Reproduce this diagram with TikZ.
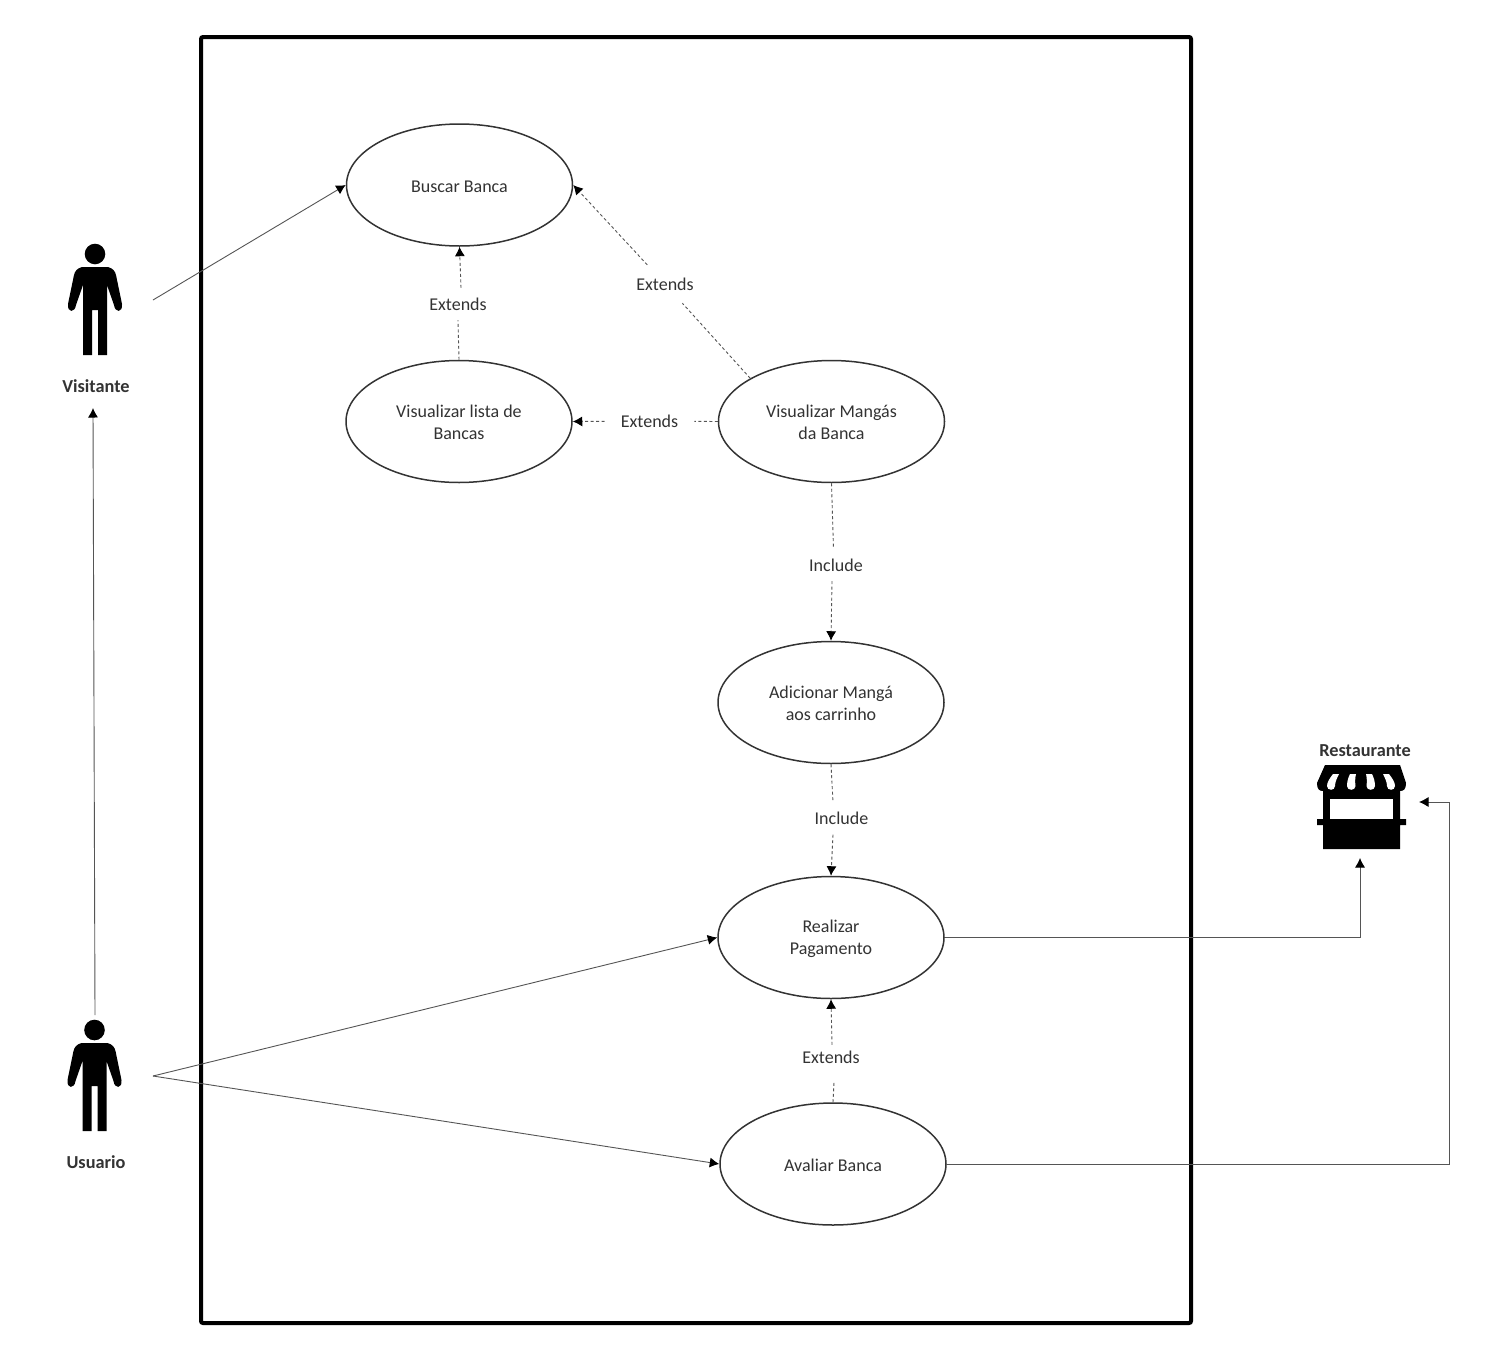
\documentclass[tikz,border=0pt]{standalone}
\usepackage{fontspec}
\setmainfont{Carlito}
\usetikzlibrary{arrows.meta,shapes.geometric}
\definecolor{inkc}{HTML}{333333}
\definecolor{linec}{HTML}{555555}
\newcommand{\firstline}[1]{\rule{0pt}{#1}}
\newcommand{\lastline}{\rule[-4pt]{0pt}{4pt}}
\tikzset{
  textframe/.style={execute at begin node={\rule{0pt}{#1}},execute at end node={\lastline}},
  usecase/.style={ellipse,draw=inkc,line width=1.5pt,minimum width=226pt,minimum height=122pt,inner sep=0pt,align=center,font=\fontsize{18}{22}\selectfont,text=inkc,textframe=18pt},
  deplabel/.style={rectangle,inner xsep=16pt,inner ysep=0pt,minimum height=32pt,font=\fontsize{18}{22}\selectfont,text=inkc,textframe=16pt},
  actorlabel/.style={font=\fontsize{18.3}{22}\selectfont\bfseries,text=inkc,inner sep=0pt},
  dep/.style={draw=linec,line width=0.9pt,dash pattern=on 3pt off 2.5pt},
  deparrow/.style={dep,-{Latex[length=9.5pt,width=10pt,color=black]}},
  assoc/.style={draw=linec,line width=0.9pt},
  assocarrow/.style={assoc,-{Latex[length=9.5pt,width=10pt,color=black]}},
}
\newcommand{\actorfig}[2]{%
  \begin{scope}[shift={(#1,#2)}]
    \fill[black] (0,0) circle[radius=10.3];
    \fill[black] (-13,13) .. controls (-18,14.5) and (-20,17) .. (-21,21)
      -- (-27,50) .. controls (-28,59) and (-20,59) .. (-19,51)
      -- (-12,31) -- (-12,101) -- (-3,101) -- (-3,56) -- (3,56) -- (3,101) -- (12,101) -- (12,31)
      -- (19,51) .. controls (20,59) and (28,59) .. (27,50)
      -- (21,21) .. controls (20,17) and (18,14.5) .. (13,13) -- cycle;
  \end{scope}}
\begin{document}
\begin{tikzpicture}[x=1pt,y=-1pt]
\useasboundingbox (0,0) rectangle (1502,1368);
\fill[white] (0,0) rectangle (1502,1368);

% system frame
\draw[black,line width=4pt,rounded corners=2pt] (201,37) rectangle (1191,1323);

% use cases
\node[usecase] (buscar) at (459.5,185) {Buscar Banca};
\node[usecase] (lista) at (459,421.5) {\firstline{18pt}Visualizar lista de\\Bancas\lastline};
\node[usecase] (mangas) at (831.5,421.5) {\firstline{18pt}Visualizar Mangás\\da Banca\lastline};
\node[usecase] (adic) at (831,702.5) {\firstline{18pt}Adicionar Mangá\\aos carrinho\lastline};
\node[usecase] (pagar) at (831,937.5) {\firstline{16pt}Realizar\\Pagamento\lastline};
\node[usecase] (avaliar) at (833,1164) {Avaliar Banca};

% dependency labels
\node[deplabel] (l1) at (458,304) {Extends};
\node[deplabel,minimum height=38pt] (l2) at (665,284) {Extends};
\node[deplabel] (l3) at (649.5,421) {Extends};
\node[deplabel] (l4) at (836,565) {Include};
\node[deplabel] (l5) at (841.5,818.5) {Include};
\node[deplabel] (l6) at (831,1057) {Extends};

% actors
\actorfig{95}{254}
\actorfig{94.5}{1030}
\node[actorlabel] (visitante) at (96,386.5) {Visitante};
\node[actorlabel] (usuario) at (96,1162.5) {Usuario};
\coordinate (vOut) at (153,300);
\coordinate (uOut) at (153,1076);
\coordinate (uTop) at (95,1015);
\coordinate (vBot) at (93,408);

% store
\node[actorlabel] (rest) at (1365,750.5) {Restaurante};
\fill[black] (1325,765) -- (1400,765) -- (1406,783) .. controls (1406,789) and (1404,791) .. (1400,791)
  -- (1400,819) -- (1406,819) -- (1406,825) -- (1400,825) -- (1400,849) -- (1323,849) -- (1323,825)
  -- (1317,825) -- (1317,819) -- (1323,819) -- (1323,791) .. controls (1319,791) and (1317,789) .. (1317,783) -- cycle;
\fill[white] (1330,798.5) rectangle (1393,818.5);
\fill[white] (1333,774) -- (1339,774) .. controls (1337,778) and (1335,782) .. (1335,786) .. controls (1335,791) and (1327,791) .. (1327,786) .. controls (1327,782) and (1330,778) .. (1333,774) -- cycle;
\fill[white] (1350,774) -- (1356,774) .. controls (1355,778) and (1355,782) .. (1355.5,786) .. controls (1355.5,791) and (1347,791) .. (1347,786) .. controls (1347,782) and (1348,778) .. (1350,774) -- cycle;
\fill[white] (1372,774) -- (1366,774) .. controls (1367,778) and (1367,782) .. (1366.5,786) .. controls (1366.5,791) and (1375,791) .. (1375,786) .. controls (1375,782) and (1374,778) .. (1372,774) -- cycle;
\fill[white] (1389,774) -- (1383,774) .. controls (1385,778) and (1387,782) .. (1387,786) .. controls (1387,791) and (1395,791) .. (1395,786) .. controls (1395,782) and (1392,778) .. (1389,774) -- cycle;
\coordinate (storeS) at (1360,858);
\coordinate (storeE) at (1419,802);

% associations
\draw[assocarrow] (vOut) -- (buscar.west);
\draw[assocarrow] (uTop) -- (vBot);
\draw[assocarrow] (uOut) -- (pagar.west);
\draw[assocarrow] (uOut) -- (avaliar.west);
\draw[assocarrow] (pagar.east) -| (storeS);
\draw[assocarrow] (avaliar.east) -| (1449,802) -- (storeE);

% dependencies
\draw[dep] (lista.north) -- (l1.south);
\draw[deparrow] ([xshift=3pt]l1.north) -- (buscar.south);
\draw[dep] (mangas.152) -- (l2);
\draw[deparrow] (l2) -- (buscar.east);
\draw[dep] (mangas.west) -- (l3);
\draw[deparrow] (l3) -- (lista.east);
\draw[dep] (mangas.south) -- ([xshift=-2.5pt]l4.north);
\draw[deparrow] ([xshift=-4pt]l4.south) -- (adic.north);
\draw[dep] (adic.south) -- ([xshift=-8.5pt]l5.north);
\draw[deparrow] ([xshift=-8.5pt]l5.south) -- (pagar.north);
\draw[dep] (avaliar.north) -- ([xshift=3pt,yshift=-9pt]l6.south);
\draw[deparrow] ([xshift=1pt,yshift=-4pt]l6.north) -- (pagar.south);
\end{tikzpicture}
\end{document}
